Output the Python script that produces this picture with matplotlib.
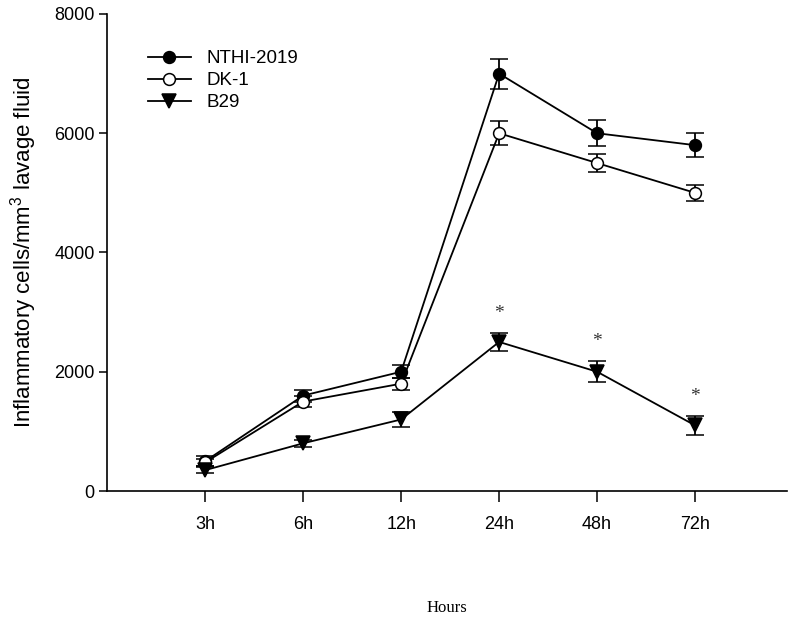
import matplotlib
matplotlib.use("Agg")
import matplotlib.pyplot as plt
from matplotlib.lines import Line2D

plt.rcParams['font.family'] = ['Liberation Sans', 'DejaVu Sans']
plt.rcParams['mathtext.fontset'] = 'custom'
plt.rcParams['mathtext.rm'] = 'Liberation Sans'
plt.rcParams['mathtext.it'] = 'Liberation Sans'

# data
hours = ["3h", "6h", "12h", "24h", "48h", "72h"]
nthi = [500, 1600, 2000, 7000, 6000, 5800]
nthi_err = [80, 100, 110, 250, 220, 200]
dk1 = [480, 1500, 1800, 6000, 5500, 5000]
dk1_err = [60, 90, 100, 200, 155, 130]
b29 = [350, 800, 1200, 2500, 2000, 1100]
b29_err = [50, 60, 120, 150, 180, 160]
star_idx = [3, 4, 5]   # points marked significant

xpos = list(range(1, len(hours) + 1))

fig = plt.figure(figsize=(8, 6.25), dpi=100)
ax = fig.add_axes([0.134, 0.2144, 0.85, 0.7632])

lw = 1.3
styles = [
    ('NTHI-2019', nthi, nthi_err, 'o', 8.5, 'black'),
    ('DK-1', dk1, dk1_err, 'o', 8.5, 'white'),
    ('B29', b29, b29_err, 'v', 9.5, 'black'),
]
handles = []
for name, vals, errs, mk, ms, fc in styles:
    ax.errorbar(xpos, vals, yerr=errs, color='black', marker=mk, ms=ms,
                mfc=fc, mec='black', mew=1.1, lw=lw, capsize=6.5,
                elinewidth=lw, capthick=lw, zorder=3)
    handles.append(Line2D([], [], color='black', marker=mk, ms=ms, mfc=fc,
                          mec='black', mew=1.1, lw=lw, label=name))

for i in star_idx:
    ax.text(xpos[i], b29[i] + b29_err[i] + 320, '*', ha='center', va='center',
            fontsize=14, family='Liberation Serif', color='#333333')

ax.set_xlim(0, 6.94)
ax.set_ylim(0, 8000)
ax.set_xticks(xpos)
ax.set_xticklabels(hours)
ax.set_yticks([0, 2000, 4000, 6000, 8000])
ax.tick_params(axis='both', labelsize=13, width=1.1, direction='out')
ax.tick_params(axis='x', length=8, pad=10)
ax.tick_params(axis='y', length=6, pad=3)
for s in ['top', 'right']:
    ax.spines[s].set_visible(False)
for s in ['left', 'bottom']:
    ax.spines[s].set_linewidth(1.2)

ax.set_ylabel(r'Inflammatory cells/mm$^3$ lavage fluid', fontsize=16, labelpad=11)
ax.set_xlabel('Hours', fontsize=12, family='Liberation Serif', labelpad=48)

ax.legend(handles=handles, loc='upper left', bbox_to_anchor=(0.035, 0.96),
          frameon=False, fontsize=13.5, handlelength=2.3, labelspacing=0.27,
          handletextpad=0.8)

fig.savefig('out.png', dpi=100)
